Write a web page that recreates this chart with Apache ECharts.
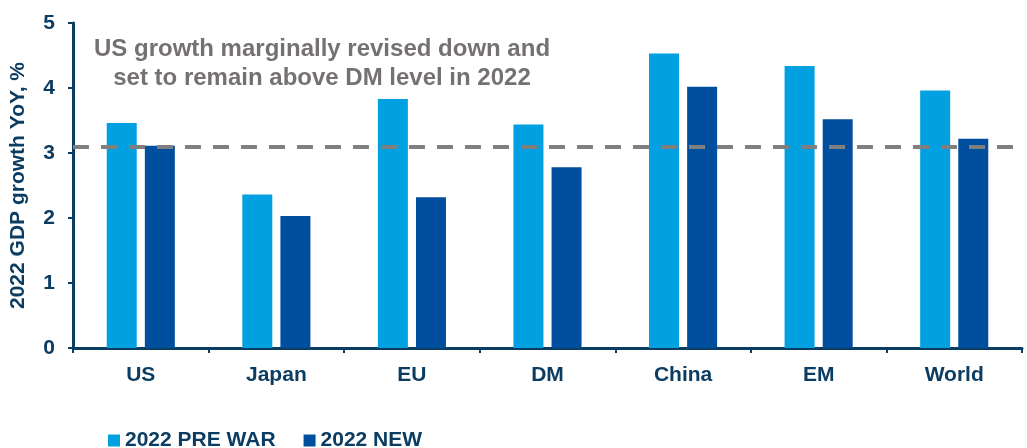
<!DOCTYPE html>
<html>
<head>
<meta charset="utf-8">
<script src="https://cdn.jsdelivr.net/npm/echarts@6/dist/echarts.min.js"></script>
<style>html,body{margin:0;padding:0;background:#fff}#c{width:1027px;height:448px}</style>
</head>
<body>
<div id="c"></div>
<script>
const categories = ['US', 'Japan', 'EU', 'DM', 'China', 'EM', 'World'];
const preWar = [3.46, 2.36, 3.83, 3.44, 4.53, 4.34, 3.96];
const newVals = [3.11, 2.03, 2.32, 2.78, 4.02, 3.52, 3.22];
const usLevel = 3.1;
const yTicks = [0, 1, 2, 3, 4, 5];

const navy = '#0b3c61';
const font = 'Liberation Sans';
const chart = echarts.init(document.getElementById('c'));
chart.setOption({
  animation: false,
  grid: { left: 72, right: 5, top: 23, bottom: 100 },
  graphic: [{
    type: 'text', x: 322, y: 35,
    style: {
      text: 'US growth marginally revised down and\nset to remain above DM level in 2022',
      fill: '#767171', font: 'bold 24px ' + font, textAlign: 'center', textVerticalAlign: 'top', lineHeight: 29
    }
  }],
  legend: {
    left: 103, top: 425, icon: 'rect', itemWidth: 12, itemHeight: 12, itemGap: 28,
    textStyle: { color: navy, fontWeight: 'bold', fontSize: 21, fontFamily: font }
  },
  xAxis: {
    type: 'category', data: categories,
    axisLine: { lineStyle: { color: navy, width: 3 } },
    axisTick: { show: true, length: 5, lineStyle: { color: navy, width: 2 } },
    axisLabel: { color: navy, fontWeight: 'bold', fontSize: 21, fontFamily: font, margin: 17 }
  },
  yAxis: {
    type: 'value', min: yTicks[0], max: yTicks[yTicks.length - 1], interval: 1,
    name: '2022 GDP growth YoY, %', nameLocation: 'middle', nameGap: 44,
    nameTextStyle: { color: navy, fontWeight: 'bold', fontSize: 21, fontFamily: font },
    axisLine: { show: true, lineStyle: { color: navy, width: 3 } },
    axisTick: { show: true, length: 5, lineStyle: { color: navy, width: 2 } },
    splitLine: { show: false },
    axisLabel: { color: navy, fontWeight: 'bold', fontSize: 21, fontFamily: font, margin: 18 }
  },
  series: [
    {
      name: '2022 PRE WAR', type: 'bar', data: preWar, barWidth: 30, barGap: '27%',
      itemStyle: { color: '#00a0e1' },
      markLine: {
        silent: true, symbol: 'none', label: { show: false },
        lineStyle: { color: '#7f7f7f', width: 4, type: [16, 12] },
        data: [{ yAxis: usLevel }]
      }
    },
    {
      name: '2022 NEW', type: 'bar', data: newVals, barWidth: 30,
      itemStyle: { color: '#004f9e' }
    }
  ]
});
</script>
</body>
</html>
